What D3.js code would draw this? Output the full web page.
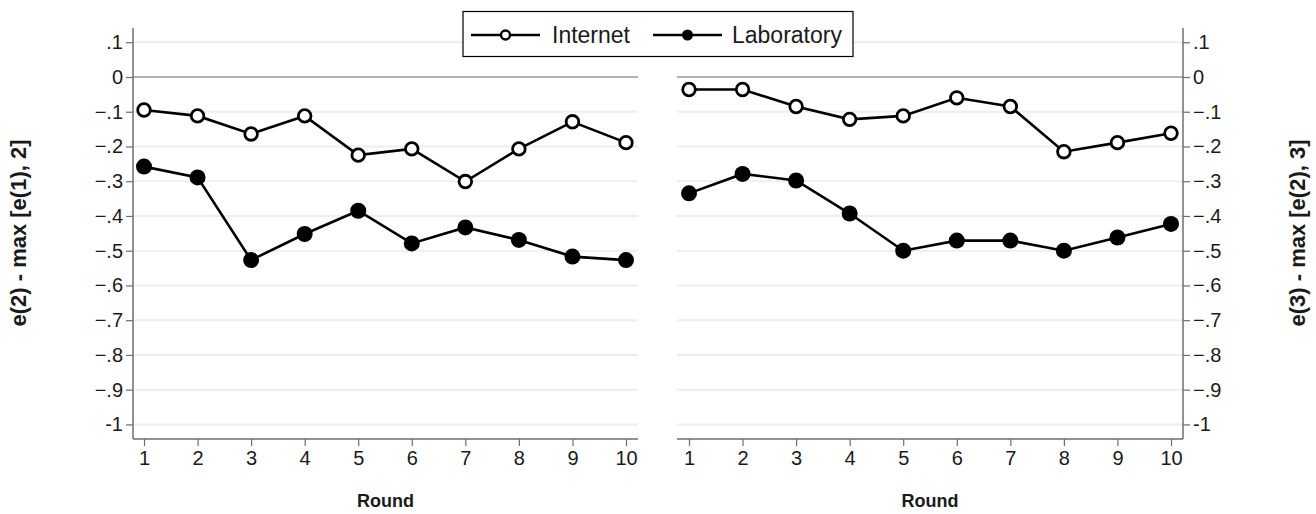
<!DOCTYPE html>
<html>
<head>
<meta charset="utf-8">
<script src="https://cdn.jsdelivr.net/npm/d3@7"></script>
<style>
  body { margin: 0; background: #fff; }
  svg { font-family: "Liberation Sans", Arial, sans-serif; }
</style>
</head>
<body>
<div id="chart"></div>
<script>
// rounds shown on the x axis
var rounds = [1, 2, 3, 4, 5, 6, 7, 8, 9, 10];

// y ticks: .1 down to -1
var yTicks = [0.1, 0, -0.1, -0.2, -0.3, -0.4, -0.5, -0.6, -0.7, -0.8, -0.9, -1];

// left panel: e(2) - max [e(1), 2]
var leftInternet = [-0.095, -0.112, -0.164, -0.112, -0.225, -0.207, -0.301, -0.207, -0.129, -0.189];
var leftLab = [-0.258, -0.289, -0.527, -0.452, -0.385, -0.479, -0.433, -0.469, -0.517, -0.527];

// right panel: e(3) - max [e(2), 3]
var rightInternet = [-0.036, -0.036, -0.085, -0.122, -0.112, -0.060, -0.085, -0.215, -0.189, -0.162];
var rightLab = [-0.335, -0.279, -0.298, -0.393, -0.500, -0.471, -0.471, -0.500, -0.462, -0.423];

var seriesNames = ["Internet", "Laboratory"];

var svgWidth = 1316;
var svgHeight = 514;

var svg = d3.select("#chart")
    .append("svg")
    .attr("width", svgWidth)
    .attr("height", svgHeight);

var plotTop = 28, plotBottom = 439;

var yScale = d3.scaleLinear()
    .domain([0.141, -1.042])
    .range([plotTop, plotBottom]);

function fmt(v) {
    if (Math.abs(v) < 1e-9) return "0";
    if (v === -1) return "-1";
    var s = d3.format(".1f")(v);
    return s.replace("0.", ".");
}

function drawPanel(opts) {
    var g = svg.append("g");

    var xScale = d3.scaleLinear()
        .domain([1, 10])
        .range([opts.x1, opts.x10]);

    // gridlines
    g.selectAll("line.grid")
        .data(yTicks.filter(d => d !== 0))
        .enter()
        .append("line")
        .attr("x1", opts.left)
        .attr("x2", opts.right)
        .attr("y1", d => yScale(d))
        .attr("y2", d => yScale(d))
        .attr("stroke", "#eeeeee")
        .attr("stroke-width", 2);

    g.append("line")
        .attr("x1", opts.left)
        .attr("x2", opts.right)
        .attr("y1", yScale(0))
        .attr("y2", yScale(0))
        .attr("stroke", "#9a9a9a")
        .attr("stroke-width", 1.3);

    // x axis
    var xAxis = d3.axisBottom(xScale)
        .tickValues(rounds)
        .tickSize(7)
        .tickPadding(5)
        .tickFormat(d3.format("d"));

    var xg = g.append("g")
        .attr("transform", `translate(0, ${plotBottom})`)
        .call(xAxis);
    xg.select(".domain").remove();
    xg.append("line")
        .attr("x1", opts.left)
        .attr("x2", opts.right)
        .attr("stroke", "#6e6e6e")
        .attr("stroke-width", 1.5);
    xg.selectAll(".tick line").attr("stroke", "#6e6e6e").attr("stroke-width", 1.2);
    xg.selectAll(".tick text")
        .attr("fill", "#1a1a1a")
        .attr("font-size", "20px");

    // y axis
    var yAxis = (opts.side === "left" ? d3.axisLeft(yScale) : d3.axisRight(yScale))
        .tickValues(yTicks)
        .tickSize(7)
        .tickPadding(3)
        .tickFormat(fmt);

    var yx = opts.side === "left" ? opts.left : opts.right;
    var yg = g.append("g")
        .attr("transform", `translate(${yx}, 0)`)
        .call(yAxis);
    yg.select(".domain").remove();
    yg.append("line")
        .attr("y1", plotTop)
        .attr("y2", plotBottom)
        .attr("stroke", "#6e6e6e")
        .attr("stroke-width", 1.5);
    yg.selectAll(".tick line").attr("stroke", "#6e6e6e").attr("stroke-width", 1.2);
    yg.selectAll(".tick text")
        .attr("fill", "#1a1a1a")
        .attr("font-size", "20px");

    var line = d3.line()
        .x((d, i) => xScale(rounds[i]))
        .y(d => yScale(d));

    [opts.lab, opts.internet].forEach((vals, k) => {
        var hollow = k === 1;
        g.append("path")
            .datum(vals)
            .attr("d", line)
            .attr("fill", "none")
            .attr("stroke", "#000")
            .attr("stroke-width", 2.6);

        g.selectAll("circle.s" + k)
            .data(vals)
            .enter()
            .append("circle")
            .attr("cx", (d, i) => xScale(rounds[i]))
            .attr("cy", d => yScale(d))
            .attr("r", hollow ? 6.3 : 8)
            .attr("fill", hollow ? "#fff" : "#000")
            .attr("stroke", "#000")
            .attr("stroke-width", hollow ? 2.8 : 0);
    });

    // x title
    g.append("text")
        .attr("x", (opts.left + opts.right) / 2)
        .attr("y", 507)
        .attr("text-anchor", "middle")
        .attr("font-size", "18px")
        .attr("font-weight", "bold")
        .attr("fill", "#1a1a1a")
        .text("Round");

    // y title
    g.append("text")
        .attr("transform", `translate(${opts.titleX}, 233) rotate(-90)`)
        .attr("text-anchor", "middle")
        .attr("font-size", "22px")
        .attr("font-weight", "bold")
        .attr("fill", "#1a1a1a")
        .attr("dy", "0.35em")
        .text(opts.title);
}

drawPanel({
    side: "left", left: 133, right: 638, x1: 144, x10: 626,
    internet: leftInternet, lab: leftLab,
    titleX: 18, title: "e(2) - max [e(1), 2]"
});

drawPanel({
    side: "right", left: 677, right: 1183, x1: 689, x10: 1171,
    internet: rightInternet, lab: rightLab,
    titleX: 1297, title: "e(3) - max [e(2), 3]"
});

// legend
var legend = svg.append("g");
legend.append("rect")
    .attr("x", 463)
    .attr("y", 11.5)
    .attr("width", 390)
    .attr("height", 45)
    .attr("fill", "#fff")
    .attr("stroke", "#000")
    .attr("stroke-width", 1.2);

var legendItems = [
    { name: seriesNames[0], x0: 471, x1: 540, text: 552, hollow: true },
    { name: seriesNames[1], x0: 653, x1: 722, text: 732, hollow: false }
];

legendItems.forEach(it => {
    legend.append("line")
        .attr("x1", it.x0).attr("x2", it.x1)
        .attr("y1", 35).attr("y2", 35)
        .attr("stroke", "#000")
        .attr("stroke-width", 2.6);
    legend.append("circle")
        .attr("cx", (it.x0 + it.x1) / 2)
        .attr("cy", 35)
        .attr("r", it.hollow ? 4.5 : 5.5)
        .attr("fill", it.hollow ? "#fff" : "#000")
        .attr("stroke", "#000")
        .attr("stroke-width", it.hollow ? 2.4 : 0);
    legend.append("text")
        .attr("x", it.text)
        .attr("y", 35)
        .attr("dy", "0.35em")
        .attr("font-size", "23px")
        .attr("fill", "#1a1a1a")
        .text(it.name);
});
</script>
</body>
</html>
